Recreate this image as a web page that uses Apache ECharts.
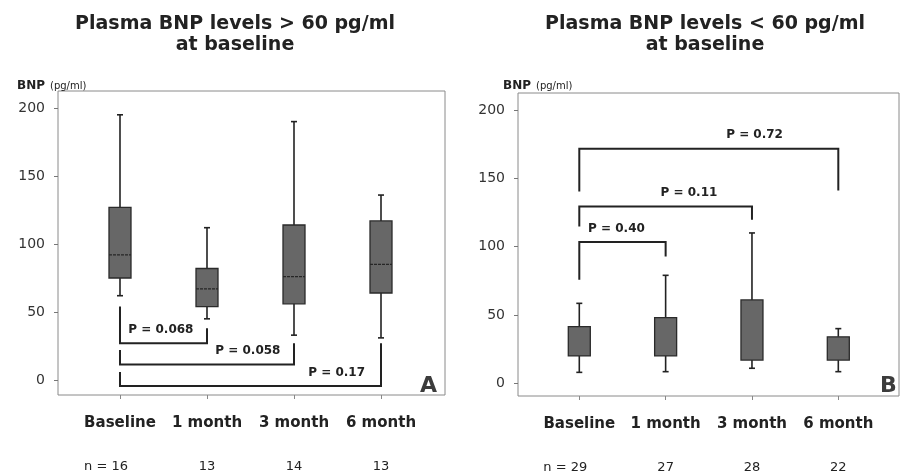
<!DOCTYPE html>
<html>
<head>
<meta charset="utf-8">
<script src="https://cdn.jsdelivr.net/npm/echarts@6/dist/echarts.min.js"></script>
<style>
  html, body { margin: 0; padding: 0; background: #fff; }
  #chart { width: 900px; height: 476px; }
</style>
</head>
<body>
<div id="chart"></div>
<script>
// Time points and group sizes
const categories = ['Baseline', '1 month', '3 month', '6 month'];
const nHigh = [16, 13, 14, 13];
const nLow = [29, 27, 28, 22];

// Box statistics per time point: [min, q1, median, q3, max] (pg/ml)
const boxHigh = [
  [62, 75, 92, 127, 195],
  [45, 54, 67, 82, 112],
  [33, 56, 76, 114, 190],
  [31, 64, 85, 117, 136]
];
const boxLow = [
  [8, 20, null, 41.5, 58.5],
  [8.5, 20, null, 48, 79],
  [11, 17, null, 61, 110],
  [8.5, 17, null, 34, 40]
];

// Comparisons against baseline: [from, to], p-values, bracket leg ends and bar level (pg/ml)
const pairs = [[0, 1], [0, 2], [0, 3]];
const pHigh = ['P = 0.068', 'P = 0.058', 'P = 0.17'];
const legLeftHigh = [54, 22, 6];
const legRightHigh = [38, 27, 27];
const barHigh = [27, 11.5, -4.4];
const labelXHigh = [0.47, 1.47, 2.49];

const pLow = ['P = 0.40', 'P = 0.11', 'P = 0.72'];
const legLeftLow = [75.7, 114.7, 140.4];
const legRightLow = [92.8, 119.6, 141];
const barLow = [103.3, 129.4, 171.6];
const labelXLow = [0.43, 1.27, 2.03];

const yTicks = [0, 50, 100, 150, 200];
const catPos = categories.map((c, i) => i);

const FONT = '"DejaVu Sans", Arial, sans-serif';
const INK = '#222';

function boxRender(stats) {
  return function (params, api) {
    const i = params.dataIndex;
    const s = stats[i];
    const x = api.value(0);
    const pMin = api.coord([x, s[0]]);
    const pQ1 = api.coord([x, s[1]]);
    const pQ3 = api.coord([x, s[3]]);
    const pMax = api.coord([x, s[4]]);
    const cx = pMin[0];
    const half = 11;
    const cap = 3;
    const lineStyle = { stroke: INK, lineWidth: 1.6 };
    const children = [
      { type: 'line', shape: { x1: cx, y1: pMax[1], x2: cx, y2: pQ3[1] }, style: lineStyle },
      { type: 'line', shape: { x1: cx, y1: pQ1[1], x2: cx, y2: pMin[1] }, style: lineStyle },
      { type: 'line', shape: { x1: cx - cap, y1: pMax[1], x2: cx + cap, y2: pMax[1] }, style: lineStyle },
      { type: 'line', shape: { x1: cx - cap, y1: pMin[1], x2: cx + cap, y2: pMin[1] }, style: lineStyle },
      {
        type: 'rect',
        shape: { x: cx - half, y: pQ3[1], width: half * 2, height: pQ1[1] - pQ3[1] },
        style: { fill: '#676767', stroke: '#2a2a2a', lineWidth: 1.3 }
      }
    ];
    if (s[2] != null) {
      const pMed = api.coord([x, s[2]]);
      children.push({
        type: 'line',
        shape: { x1: cx - half, y1: pMed[1], x2: cx + half, y2: pMed[1] },
        style: { stroke: '#262626', lineWidth: 1.3, lineDash: [3, 1] }
      });
    }
    return { type: 'group', children: children };
  };
}

function bracketRender(texts, legL, legR, bars, labelX) {
  return function (params, api) {
    const i = params.dataIndex;
    const x1 = pairs[i][0], x2 = pairs[i][1];
    const a = api.coord([x1, legL[i]]);
    const b = api.coord([x1, bars[i]]);
    const c = api.coord([x2, bars[i]]);
    const d = api.coord([x2, legR[i]]);
    const t = api.coord([labelX[i], bars[i] + 10]);
    return {
      type: 'group',
      children: [
        {
          type: 'polyline',
          shape: { points: [a, b, c, d] },
          style: { stroke: INK, lineWidth: 2, fill: null }
        },
        {
          type: 'text',
          style: {
            text: texts[i], x: t[0], y: t[1],
            align: 'center', verticalAlign: 'middle',
            fontFamily: FONT, fontSize: 12, fontWeight: 'bold', fill: INK
          }
        }
      ]
    };
  };
}

function xAxisFor(gridIndex, min, max, ns) {
  return {
    type: 'value', gridIndex: gridIndex, min: min, max: max,
    position: 'bottom',
    splitLine: { show: false },
    axisLine: { show: false, onZero: false },
    axisTick: { show: true, customValues: catPos, length: 4, lineStyle: { color: '#888' } },
    axisLabel: {
      show: true, customValues: catPos, margin: 6,
      formatter: function (v) {
        const i = Math.round(v);
        if (i === 0) return '{c|' + categories[i] + '}\n{n0|n = ' + ns[i] + '}';
        return '{c|' + categories[i] + '}\n{n|' + ns[i] + '}';
      },
      rich: {
        c: { fontFamily: FONT, fontSize: 15, fontWeight: 'bold', color: INK, lineHeight: 44 },
        n: { fontFamily: FONT, fontSize: 13, color: INK, lineHeight: 44 },
        n0: { fontFamily: FONT, fontSize: 13, color: INK, lineHeight: 44, padding: [0, 28, 0, 0] }
      }
    }
  };
}

function yAxisFor(gridIndex, min, max) {
  return {
    type: 'value', gridIndex: gridIndex, min: min, max: max,
    position: 'left',
    splitLine: { show: false },
    axisLine: { show: false, onZero: false },
    axisTick: { show: true, customValues: yTicks, length: 4, lineStyle: { color: '#777' } },
    axisLabel: {
      show: true, customValues: yTicks, margin: 13,
      fontFamily: FONT, fontSize: 14, color: '#333'
    }
  };
}

function titleBlock(text, cx) {
  return {
    text: text, left: cx, top: 9, textAlign: 'center',
    textStyle: { fontFamily: FONT, fontSize: 19, fontWeight: 'bold', color: INK, lineHeight: 21 }
  };
}

function unitBlock(x) {
  return {
    text: '{b|BNP} {u|(pg/ml)}', left: x, top: 72,
    textStyle: {
      rich: {
        b: { fontFamily: FONT, fontSize: 12, fontWeight: 'bold', color: INK },
        u: { fontFamily: FONT, fontSize: 10, fontWeight: 'normal', color: INK }
      }
    }
  };
}

function panelTag(text, x) {
  return {
    text: text, left: x, top: 370,
    textStyle: { fontFamily: FONT, fontSize: 22, fontWeight: 'bold', color: '#3c3c3c' }
  };
}

const chart = echarts.init(document.getElementById('chart'), null, { renderer: 'canvas' });

chart.setOption({
  backgroundColor: '#fff',
  animation: false,
  title: [
    titleBlock('Plasma BNP levels > 60 pg/ml\nat baseline', 230),
    titleBlock('Plasma BNP levels < 60 pg/ml\nat baseline', 700),
    unitBlock(12),
    unitBlock(498),
    panelTag('A', 415),
    panelTag('B', 875)
  ],
  grid: [
    { left: 58, top: 91, width: 387, height: 304, show: true, borderColor: '#8a8a8a', borderWidth: 1, backgroundColor: 'transparent' },
    { left: 518, top: 93, width: 381, height: 303, show: true, borderColor: '#8a8a8a', borderWidth: 1, backgroundColor: 'transparent' }
  ],
  xAxis: [
    xAxisFor(0, -0.7126, 3.7356, nHigh),
    xAxisFor(1, -0.710, 3.703, nLow)
  ],
  yAxis: [
    yAxisFor(0, -11, 212.5),
    yAxisFor(1, -9.3, 212.4)
  ],
  series: [
    {
      type: 'custom', xAxisIndex: 0, yAxisIndex: 0,
      renderItem: boxRender(boxHigh),
      encode: { x: 0, y: [1, 2] },
      data: boxHigh.map((s, i) => [i, s[0], s[4]])
    },
    {
      type: 'custom', xAxisIndex: 1, yAxisIndex: 1,
      renderItem: boxRender(boxLow),
      encode: { x: 0, y: [1, 2] },
      data: boxLow.map((s, i) => [i, s[0], s[4]])
    },
    {
      type: 'custom', xAxisIndex: 0, yAxisIndex: 0,
      renderItem: bracketRender(pHigh, legLeftHigh, legRightHigh, barHigh, labelXHigh),
      encode: { x: [0, 1], y: 2 },
      data: pairs.map((p, i) => [p[0], p[1], barHigh[i]])
    },
    {
      type: 'custom', xAxisIndex: 1, yAxisIndex: 1,
      renderItem: bracketRender(pLow, legLeftLow, legRightLow, barLow, labelXLow),
      encode: { x: [0, 1], y: 2 },
      data: pairs.map((p, i) => [p[0], p[1], barLow[i]])
    }
  ]
});
</script>
</body>
</html>
